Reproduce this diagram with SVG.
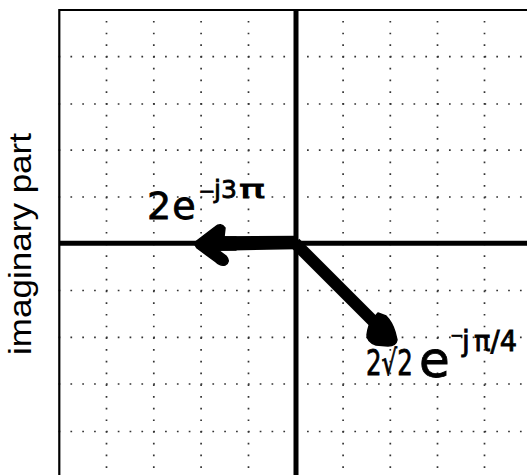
<svg xmlns="http://www.w3.org/2000/svg" width="527" height="475" viewBox="0 0 527 475">
<style>
  .gh { stroke: #333; stroke-width: 1.7; stroke-dasharray: 1.7 10.13; fill: none; }
  .gv { stroke: #333; stroke-width: 1.7; stroke-dasharray: 1.7 10.02; fill: none; }
  .frame { stroke: #000; stroke-width: 2.2; fill: none; }
  .axis { stroke: #000; stroke-width: 5; fill: none; }
  .ink { fill: #000; stroke: #000; stroke-width: 1.5; stroke-linejoin: round; }
  .hw { font-family: "DejaVu Sans", "Liberation Sans", sans-serif; fill: #000; stroke: #000; stroke-width: 0.8; }
  .ylab { font-family: "Liberation Sans", Arial, sans-serif; font-size: 31px; fill: #000; }
</style>
<rect width="527" height="475" fill="#fff"/>
<g id="grid">
  <g class="gh">
    <line x1="58.6" y1="56.7" x2="527" y2="56.7"/>
    <line x1="58.6" y1="104" x2="527" y2="104"/>
    <line x1="58.6" y1="150.2" x2="527" y2="150.2"/>
    <line x1="58.6" y1="197" x2="527" y2="197"/>
    <line x1="58.6" y1="290.5" x2="527" y2="290.5"/>
    <line x1="58.6" y1="337.3" x2="527" y2="337.3"/>
    <line x1="58.6" y1="384" x2="527" y2="384"/>
    <line x1="58.6" y1="431.5" x2="527" y2="431.5"/>
  </g>
  <g class="gv">
    <line x1="106.5" y1="9.2" x2="106.5" y2="475"/>
    <line x1="153.8" y1="9.2" x2="153.8" y2="475"/>
    <line x1="201.1" y1="9.2" x2="201.1" y2="475"/>
    <line x1="248.5" y1="9.2" x2="248.5" y2="475"/>
    <line x1="343.1" y1="9.2" x2="343.1" y2="475"/>
    <line x1="390.3" y1="9.2" x2="390.3" y2="475"/>
    <line x1="437.5" y1="9.2" x2="437.5" y2="475"/>
    <line x1="484.5" y1="9.2" x2="484.5" y2="475"/>
  </g>
</g>
<g id="frame">
  <path class="frame" d="M59.3,475 L59.3,10 L527,10"/>
</g>
<g id="axes">
  <line class="axis" x1="296" y1="9" x2="296" y2="475"/>
  <line class="axis" x1="59" y1="243.3" x2="527" y2="243.3"/>
</g>
<g id="y-label">
  <text class="ylab" transform="translate(30.5,244) rotate(-90)" text-anchor="middle" textLength="222" lengthAdjust="spacingAndGlyphs">imaginary part</text>
</g>
<g id="connectors">
  <g id="arrow-1">
    <polygon class="ink" points="220,237 296,236.5 296,248.5 220,250"/>
    <path class="ink" d="M194,243 L215,227 Q221,222 225,228 L224,237 L236,237 L236,250 L218,250 L226,256 Q231,262 225,265 Q220,266 216,262 L197,248 Z"/>
  </g>
  <g id="arrow-2">
    <line x1="295" y1="243" x2="379" y2="327" stroke="#000" stroke-width="12"/>
    <path class="ink" d="M378,313 L386,316 Q392,322 395,332 L397,340 Q396,346 388,346 L376,345 Q367,342 367,335 Q368,326 372,320 Z"/>
  </g>
</g>
<g id="label-1">
  <text class="hw" x="147" y="219" font-size="38" letter-spacing="1">2e</text>
  <text class="hw" x="198.5" y="198" font-size="20">−</text>
  <text class="hw" x="214" y="198" font-size="25">j3</text>
  <text class="hw" x="239" y="198" font-size="25" textLength="26" lengthAdjust="spacingAndGlyphs">π</text>
</g>
<g id="label-2">
  <text class="hw" transform="translate(366,375) scale(0.7,1)" font-size="35">2√2</text>
  <text class="hw" x="419" y="377" font-size="50">e</text>
  <text class="hw" x="450" y="341" font-size="16">−</text>
  <text class="hw" x="462" y="351" font-size="28">j</text>
  <text class="hw" x="474" y="351" font-size="28" textLength="43" lengthAdjust="spacingAndGlyphs">π/4</text>
</g>
</svg>
